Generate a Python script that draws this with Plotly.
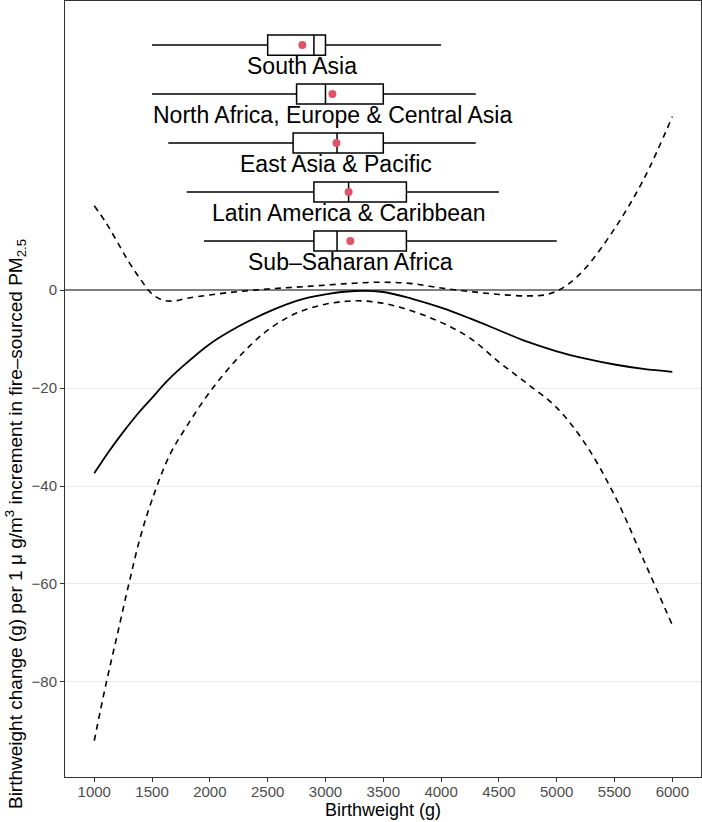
import plotly.graph_objects as go

# ---- curve data (birthweight in g, effect in g) ----
fit_x = [1000, 1125, 1250, 1375, 1500, 1625, 1750, 2000, 2250, 2500, 2750, 3000, 3250, 3500, 3750,
         4000, 4250, 4500, 4750, 5000, 5250, 5500, 5750, 6000]
fit_y = [-37.4, -33.0, -29.0, -25.3, -22.0, -18.7, -15.9, -11.0, -7.4, -4.5, -2.2, -0.9, -0.2, -0.4, -1.8,
         -3.6, -5.8, -8.2, -10.6, -12.5, -14.0, -15.2, -16.1, -16.7]

upper_x = [1000, 1100, 1200, 1300, 1400, 1500, 1600, 1700, 1800, 2000, 2250, 2500, 2750,
           3000, 3250, 3500, 3750, 4000, 4250, 4500, 4750, 4900, 5000, 5100, 5250, 5500,
           5750, 6000]
upper_y = [17.2, 13.8, 9.8, 5.7, 2.2, -0.8, -2.1, -2.2, -1.7, -1.0, -0.3, 0.2, 0.6,
           1.0, 1.4, 1.6, 1.3, 0.4, -0.3, -0.9, -1.2, -1.0, -0.2, 1.2, 4.5, 12.5,
           22.5, 35.4]

lower_x = [1000, 1100, 1200, 1300, 1400, 1500, 1650, 1800, 2000, 2250, 2500, 2750, 3000,
           3250, 3500, 3750, 4000, 4250, 4500, 4750, 5000, 5250, 5500, 5750, 6000]
lower_y = [-92.0, -80.6, -70.3, -59.9, -50.3, -42.8, -33.8, -27.8, -20.8, -13.7, -8.2,
           -4.7, -2.9, -2.2, -2.7, -4.3, -6.6, -9.8, -14.7, -19.2, -24.0, -31.5, -41.9,
           -55.0, -68.4]

# ---- regional birthweight distributions ----
regions = ["South Asia", "North Africa, Europe & Central Asia", "East Asia & Pacific",
           "Latin America & Caribbean", "Sub–Saharan Africa"]
region_pos = [50, 40, 30, 20, 10]
bw_low = [1500, 1500, 1640, 1800, 1950]
bw_q1 = [2500, 2750, 2720, 2900, 2900]
bw_med = [2900, 3000, 3100, 3200, 3100]
bw_q3 = [3000, 3500, 3500, 3700, 3700]
bw_high = [4000, 4300, 4300, 4500, 5000]
bw_mean = [2800, 3060, 3095, 3200, 3215]

x_ticks = [1000, 1500, 2000, 2500, 3000, 3500, 4000, 4500, 5000, 5500, 6000]
y_ticks = [0, -20, -40, -60, -80]

FONT = "Liberation Sans, Arial, sans-serif"

fig = go.Figure()

fig.add_trace(go.Scatter(x=upper_x, y=upper_y, mode="lines",
                         line=dict(color="black", width=1.6, dash="6px,5px", shape="spline", smoothing=1.0),
                         showlegend=False, hoverinfo="skip"))
fig.add_trace(go.Scatter(x=lower_x, y=lower_y, mode="lines",
                         line=dict(color="black", width=1.6, dash="6px,5px", shape="spline", smoothing=1.0),
                         showlegend=False, hoverinfo="skip"))
fig.add_trace(go.Scatter(x=fit_x, y=fit_y, mode="lines",
                         line=dict(color="black", width=1.8, shape="spline", smoothing=1.0),
                         showlegend=False, hoverinfo="skip"))

fig.add_trace(go.Box(
    y=region_pos, q1=bw_q1, median=bw_med, q3=bw_q3,
    lowerfence=bw_low, upperfence=bw_high, orientation="h",
    width=4.1, whiskerwidth=0, boxpoints=False,
    line=dict(color="black", width=1.5), fillcolor="white",
    showlegend=False, hoverinfo="skip"))

fig.add_trace(go.Scatter(x=bw_mean, y=region_pos, mode="markers",
                         marker=dict(color="#DF536B", size=8),
                         showlegend=False, hoverinfo="skip"))

for name, m, p in zip(regions, bw_mean, region_pos):
    fig.add_annotation(x=m, y=p - 4.3, text=name, showarrow=False,
                       xanchor="center", yanchor="middle",
                       font=dict(family=FONT, size=23, color="black"))

fig.add_annotation(xref="paper", yref="paper", x=0, xshift=-50, y=0.326,
                   text="Birthweight change (g) per 1 μ g/m<sup>3</sup> increment in fire–sourced PM<sub>2.5</sub>",
                   textangle=-90, showarrow=False, xanchor="center", yanchor="middle",
                   font=dict(family=FONT, size=19, color="black"))

fig.update_layout(
    width=702, height=822,
    margin=dict(l=65, r=1, t=1, b=45, autoexpand=False),
    paper_bgcolor="white", plot_bgcolor="white",
    font=dict(family=FONT),
    showlegend=False,
    xaxis=dict(range=[747, 6248], tickvals=x_ticks, ticktext=[str(v) for v in x_ticks],
               automargin=False, ticklabelstandoff=-3,
               showgrid=False, zeroline=False, ticks="outside", ticklen=4,
               tickcolor="#333333", showline=True, mirror=True, linecolor="#333333",
               linewidth=1, tickfont=dict(size=15, color="#4D4D4D", family=FONT),
               title=dict(text="Birthweight (g)", font=dict(size=18, color="black", family=FONT),
                          standoff=0)),
    yaxis=dict(range=[-99.4, 59.0], tickvals=y_ticks, ticktext=["0", "−20", "−40", "−60", "−80"],
               automargin=False,
               showgrid=True, gridcolor="#EBEBEB", gridwidth=1,
               zeroline=True, zerolinecolor="#808080", zerolinewidth=1.6,
               ticks="outside", ticklen=4, tickcolor="#333333",
               showline=True, mirror=True, linecolor="#333333", linewidth=1,
               tickfont=dict(size=15, color="#4D4D4D", family=FONT)),
)

fig.write_html("out.html", config={"displayModeBar": False},
               post_script="document.body.style.margin='0';document.body.style.overflow='hidden';")
